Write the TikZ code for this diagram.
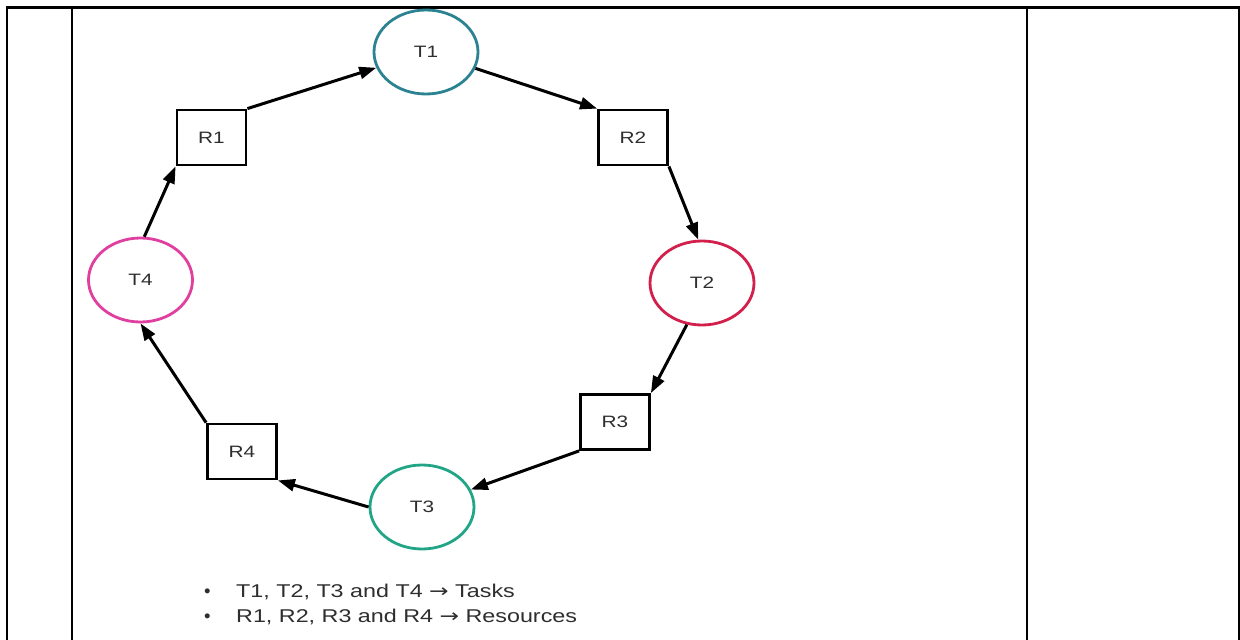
\documentclass[tikz,border=0pt]{standalone}
\usepackage{fontspec}
\usepackage{graphicx}
\setmainfont{Liberation Sans}
\newfontfamily\arrowfont{DejaVu Sans}
\usetikzlibrary{shapes.geometric,arrows.meta}
\definecolor{tone}{HTML}{2B8290}
\definecolor{ttwo}{HTML}{D31F4C}
\definecolor{tthree}{HTML}{21A586}
\definecolor{tfour}{HTML}{E03FA0}
\definecolor{txt}{HTML}{2E2E2E}
\newcommand\hstretch[1]{\scalebox{1.26}[1]{#1}}
\newcommand\rarr{{\arrowfont →}}
\tikzset{
  frameline/.style={line width=2.5pt, line cap=rect},
  task/.style={ellipse, draw, line width=2.8pt, minimum width=104pt, minimum height=84pt, inner sep=0pt, text=txt, font=\fontsize{16.5}{18}\selectfont},
  res/.style={rectangle, draw=black, line width=2.8pt, minimum width=69pt, minimum height=55pt, inner sep=0pt, text=txt, font=\fontsize{16.5}{18}\selectfont},
  flow/.style={line width=3pt, -{Triangle[length=17pt,width=12pt]}},
  legend/.style={anchor=base west, inner sep=0pt, text=txt, font=\fontsize{18.5}{20}\selectfont}
}
\begin{document}
\begin{tikzpicture}[x=1pt,y=-1pt]
\useasboundingbox (0,0) rectangle (1240,640);
\fill[white] (0,0) rectangle (1240,640);
% table frame
\draw[frameline] (7,660) -- (7,7.5) -- (1239,7.5) -- (1239,660);
\draw[frameline] (72,7.5) -- (72,660);
\draw[frameline] (1027,7.5) -- (1027,660);
% nodes
\node[task, draw=tone]   (T1) at (426,52)    {\hstretch{T1}};
\node[task, draw=ttwo]   (T2) at (702,283)   {\hstretch{T2}};
\node[task, draw=tthree] (T3) at (422,507)   {\hstretch{T3}};
\node[task, draw=tfour]  (T4) at (140.5,280) {\hstretch{T4}};
\node[res] (R1) at (211.5,137.5) {\hstretch{R1}};
\node[res] (R2) at (633,137.5)   {\hstretch{R2}};
\node[res] (R3) at (615,422)     {\hstretch{R3}};
\node[res] (R4) at (242,451.5)   {\hstretch{R4}};
% connectors
\draw[flow] (R1.north east) -- (T1);
\draw[flow] (T1) -- (R2.north west);
\draw[flow] (R2.south east) -- (T2.95);
\draw[flow] (T2.250) -- (R3.north east);
\draw[flow] (R3.south west) -- (T3);
\draw[flow] (T3.west) -- (R4.south east);
\draw[flow] (R4.north west) -- (T4.south);
\draw[flow] (T4.85) -- (R1.south west);
% legend
\node[legend] (b1) at (204,597) {•};
\node[legend] (l1) at (236,597) {\hstretch{T1, T2, T3 and T4 \rarr{} Tasks}};
\node[legend] (b2) at (204,622) {•};
\node[legend] (l2) at (236,622) {\hstretch{R1, R2, R3 and R4 \rarr{} Resources}};
\end{tikzpicture}
\end{document}
